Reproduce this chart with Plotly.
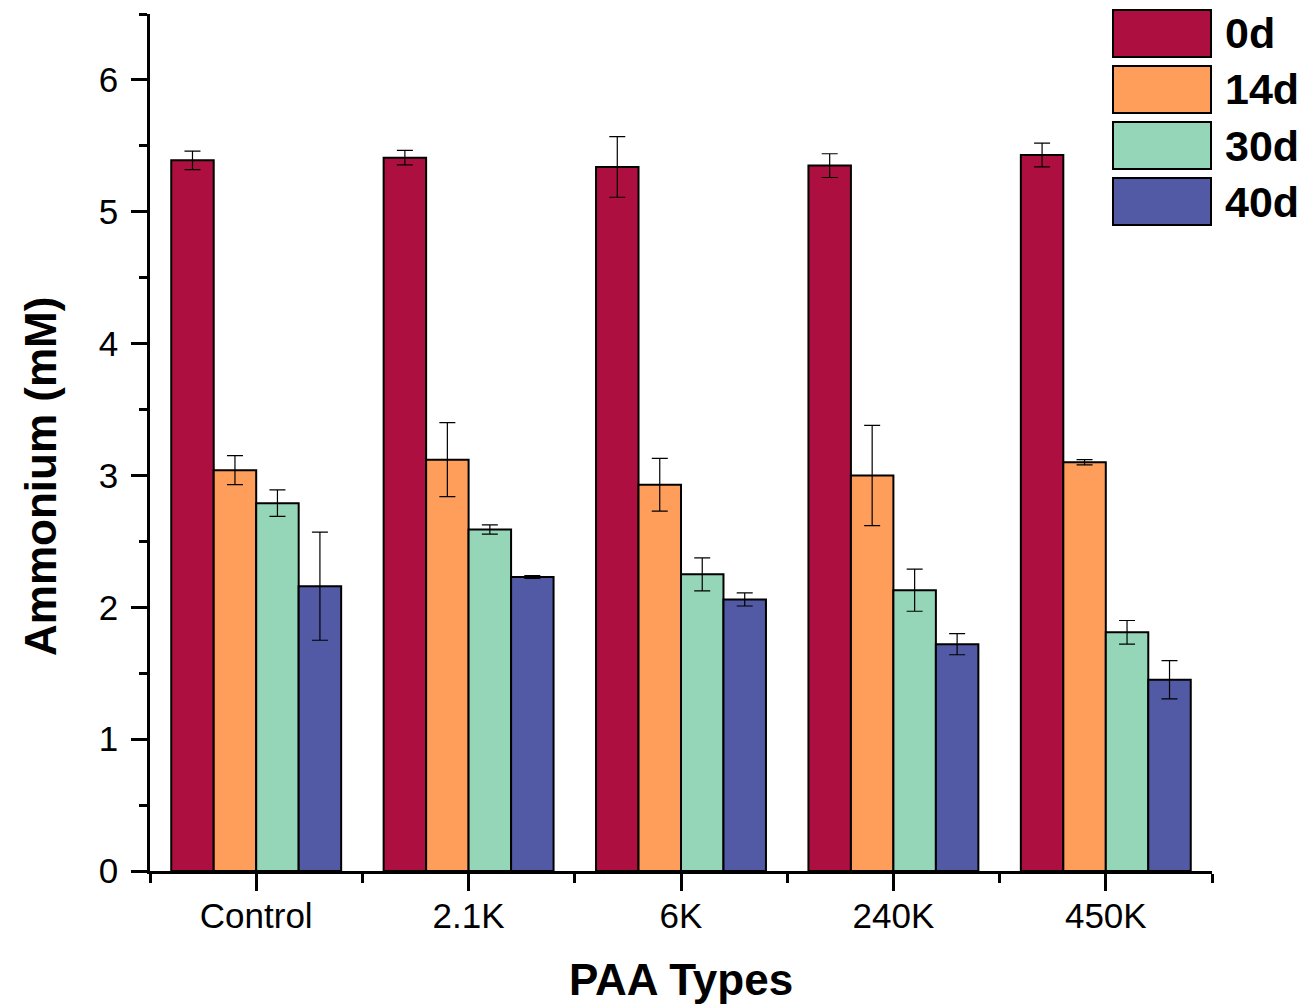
import plotly.graph_objects as go

# PAA types on the x axis and the four sampling days
categories = ["Control", "2.1K", "6K", "240K", "450K"]
series_names = ["0d", "14d", "30d", "40d"]
series_colors = ["#AD1040", "#FF9E5A", "#95D6B8", "#5259A5"]

# Ammonium concentration (mM), mean and error per series
values_0d = [5.39, 5.41, 5.34, 5.35, 5.43]
errors_0d = [0.07, 0.055, 0.23, 0.09, 0.09]
values_14d = [3.04, 3.12, 2.93, 3.00, 3.10]
errors_14d = [0.11, 0.28, 0.20, 0.38, 0.02]
values_30d = [2.79, 2.59, 2.25, 2.13, 1.81]
errors_30d = [0.10, 0.035, 0.125, 0.16, 0.09]
values_40d = [2.16, 2.23, 2.06, 1.72, 1.45]
errors_40d = [0.41, 0.01, 0.05, 0.08, 0.145]

series_values = [values_0d, values_14d, values_30d, values_40d]
series_errors = [errors_0d, errors_14d, errors_30d, errors_40d]

FONT = "Arial, Liberation Sans, sans-serif"
W, H = 1307, 1007
ML, MR, MT, MB = 150, 95, 14, 136

fig = go.Figure()
x_pos = list(range(len(categories)))
for name, color, vals, errs in zip(series_names, series_colors, series_values, series_errors):
    fig.add_trace(go.Bar(
        x=x_pos, y=vals, name=name,
        marker=dict(color=color, line=dict(color="black", width=2)),
        error_y=dict(type="data", array=errs, visible=True,
                     color="black", thickness=1.2, width=8),
        showlegend=False,
    ))

# pixel -> paper coordinate helpers for the legend block and axis titles
pw = W - ML - MR
ph = H - MT - MB
def px_x(x):
    return (x - ML) / pw
def px_y(y):
    return (H - MB - y) / ph

box_left, box_right = 1113, 1211
box_tops = [10, 66, 122, 178]
box_h = 47
for name, color, top in zip(series_names, series_colors, box_tops):
    fig.add_shape(type="rect", xref="paper", yref="paper",
                  x0=px_x(box_left), x1=px_x(box_right),
                  y0=px_y(top + box_h), y1=px_y(top),
                  fillcolor=color, line=dict(color="black", width=2))
    fig.add_annotation(xref="paper", yref="paper",
                       x=px_x(1223), y=px_y(top + box_h / 2),
                       xanchor="left", yanchor="middle",
                       text="<b>%s</b>" % name, showarrow=False,
                       font=dict(family=FONT, size=43, color="black"))

# axis titles
fig.add_annotation(xref="paper", yref="paper",
                   x=px_x(40), y=px_y(477),
                   xanchor="center", yanchor="middle", textangle=-90,
                   text="<b>Ammonium (mM)</b>", showarrow=False,
                   font=dict(family=FONT, size=44, color="black"))
fig.add_annotation(xref="paper", yref="paper",
                   x=0.5, y=px_y(1006),
                   xanchor="center", yanchor="bottom",
                   text="<b>PAA Types</b>", showarrow=False,
                   font=dict(family=FONT, size=44, color="black"))

fig.update_layout(
    width=W, height=H,
    margin=dict(l=ML, r=MR, t=MT, b=MB, autoexpand=False),
    plot_bgcolor="white", paper_bgcolor="white",
    barmode="group", bargap=0.2, bargroupgap=0,
    font=dict(family=FONT, color="black"),
)

fig.update_xaxes(
    range=[-0.5, 4.5], automargin=False,
    tickmode="array", tickvals=x_pos, ticktext=categories,
    ticks="outside", ticklen=17, tickwidth=2.5, tickcolor="black",
    minor=dict(tickmode="linear", tick0=-0.5, dtick=1, ticks="outside",
               ticklen=9, tickwidth=2.5, tickcolor="black"),
    showline=True, linewidth=2.5, linecolor="black",
    showgrid=False, zeroline=False,
    tickfont=dict(family=FONT, size=35, color="black"),
    ticklabelstandoff=-5,
)

fig.update_yaxes(
    range=[0, 6.5], automargin=False,
    tickmode="linear", tick0=0, dtick=1,
    ticks="outside", ticklen=16, tickwidth=2.5, tickcolor="black",
    minor=dict(tickmode="linear", tick0=0, dtick=0.5, ticks="outside",
               ticklen=8, tickwidth=2.5, tickcolor="black"),
    showline=True, linewidth=2.5, linecolor="black",
    showgrid=False, zeroline=False,
    tickfont=dict(family=FONT, size=35, color="black"),
    ticklabelstandoff=6,
)

fig.write_html("out.html")
